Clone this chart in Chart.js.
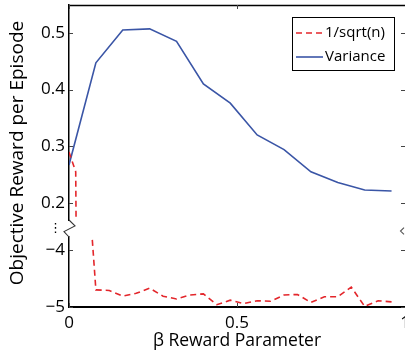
<!DOCTYPE html>
<html>
<head>
<meta charset="utf-8">
<script src="https://cdn.jsdelivr.net/npm/chart.js@4.4.1/dist/chart.umd.min.js"></script>
<style>
  html, body { margin: 0; padding: 0; background: #fff; }
  #wrap { width: 405px; height: 353px; }
</style>
</head>
<body>
<div id="wrap"><canvas id="rewardChart" width="405" height="353"></canvas></div>
<script>
// reward per episode vs. beta, for the two exploration bonuses
var varianceX = [0, 0.08, 0.16, 0.24, 0.32, 0.40, 0.48, 0.56, 0.64, 0.72, 0.80, 0.88, 0.96];
var varianceY = [0.267, 0.447, 0.505, 0.507, 0.485, 0.410, 0.376, 0.320, 0.294, 0.255, 0.236, 0.223, 0.221];

var sqrtX = [0, 0.02, 0.08, 0.12, 0.16, 0.20, 0.24, 0.28, 0.32, 0.36, 0.40, 0.44, 0.48,
             0.52, 0.56, 0.60, 0.64, 0.68, 0.72, 0.76, 0.80, 0.84, 0.88, 0.92, 0.96];
var sqrtY = [0.29, 0.255, -4.70, -4.71, -4.81, -4.76, -4.67, -4.81, -4.86, -4.79, -4.77, -4.96, -4.88,
             -4.94, -4.89, -4.90, -4.79, -4.78, -4.92, -4.82, -4.82, -4.65, -4.99, -4.89, -4.91];

var xTicks = [0, 0.5, 1];
var upperTicks = [0.2, 0.3, 0.4, 0.5];
var lowerTicks = [-5, -4];
var lowerTickLabels = ['\u22125', '\u22124'];

var RED = '#e3262b';
var BLUE = '#3a55a6';
var FONT = 'Open Sans';

function pts(xs, ys) {
    return xs.map(function (x, i) { return { x: x, y: ys[i] }; });
}

// keep axis boxes at fixed sizes so the plot frame lands where it should
function pinBox(w, h) {
    return function (axis) {
        if (w) axis.width = w;
        if (h) axis.height = h;
        axis.paddingLeft = 0;
        axis.paddingRight = 0;
        axis.paddingTop = 0;
        axis.paddingBottom = 0;
    };
}

function fixedTicks(values) {
    return function (axis) {
        axis.ticks = values.map(function (v) { return { value: v }; });
    };
}

var tickFont = { family: FONT, size: 17 };

// each dataset only shows inside its own y segment
var clipToSegment = {
    id: 'clipToSegment',
    beforeDatasetDraw: function (chart, args) {
        var s = chart.scales[args.meta.yAxisID];
        var a = chart.chartArea;
        var ctx = chart.ctx;
        ctx.save();
        ctx.beginPath();
        ctx.rect(a.left, s.top, a.right - a.left, s.bottom - s.top);
        ctx.clip();
    },
    afterDatasetDraw: function (chart) {
        chart.ctx.restore();
    }
};

// frame, inward ticks, axis break marks, y title and legend
var frame = {
    id: 'frame',
    afterDraw: function (chart) {
        var ctx = chart.ctx;
        var a = chart.chartArea;
        var x = chart.scales.x, top = chart.scales.yTop, low = chart.scales.yLow;

        ctx.save();
        ctx.strokeStyle = '#000';
        ctx.lineWidth = 1.3;
        ctx.beginPath();
        ctx.moveTo(a.left, a.top + 0.5);
        ctx.lineTo(a.right, a.top + 0.5);
        ctx.stroke();

        ctx.strokeStyle = '#444';
        ctx.lineWidth = 1;
        ctx.beginPath();
        xTicks.forEach(function (v) {
            var px = Math.round(x.getPixelForValue(v)) + 0.5;
            ctx.moveTo(px, a.bottom); ctx.lineTo(px, a.bottom - 4);
            ctx.moveTo(px, a.top); ctx.lineTo(px, a.top + 4);
        });
        [[top, upperTicks], [low, lowerTicks]].forEach(function (p) {
            p[1].forEach(function (v) {
                var py = Math.round(p[0].getPixelForValue(v)) + 0.5;
                ctx.moveTo(a.left, py); ctx.lineTo(a.left + 4, py);
                ctx.moveTo(a.right, py); ctx.lineTo(a.right - 4, py);
            });
        });
        ctx.stroke();

        // break marks between the two y segments
        var y0 = top.bottom, y1 = low.top;
        var h = y1 - y0;
        ctx.strokeStyle = '#333';
        ctx.lineWidth = 1.1;
        ctx.beginPath();
        ctx.moveTo(a.left, y0);
        ctx.lineTo(a.left + 6, y0 + h * 0.35);
        ctx.lineTo(a.left - 5, y0 + h * 0.68);
        ctx.lineTo(a.left, y1);
        ctx.stroke();
        ctx.strokeStyle = '#555';
        ctx.beginPath();
        ctx.moveTo(a.right - 1, y0 + h * 0.45);
        ctx.lineTo(a.right - 4.5, y0 + h * 0.65);
        ctx.lineTo(a.right - 1, y0 + h * 0.85);
        ctx.stroke();

        // y axis title spans both segments
        ctx.fillStyle = '#000';
        ctx.font = '19px "' + FONT + '"';
        ctx.textAlign = 'center';
        ctx.textBaseline = 'middle';
        ctx.translate(18, (a.top + a.bottom) / 2 - 3);
        ctx.rotate(-Math.PI / 2);
        ctx.fillText('Objective Reward per Episode', 0, 0);
        ctx.setTransform(1, 0, 0, 1, 0, 0);

        // legend
        var lx = a.right - 113, ly = a.top + 12, lw = 102, lh = 53;
        ctx.fillStyle = '#fff';
        ctx.fillRect(lx, ly, lw, lh);
        ctx.strokeStyle = '#000';
        ctx.lineWidth = 1;
        ctx.strokeRect(lx + 0.5, ly + 0.5, lw, lh);
        var items = [chart.data.datasets[0], chart.data.datasets[2]];
        ctx.font = '15px "' + FONT + '"';
        ctx.textAlign = 'left';
        items.forEach(function (ds, i) {
            var ry = ly + 16 + i * 24;
            ctx.strokeStyle = ds.borderColor;
            ctx.lineWidth = ds.borderWidth;
            ctx.setLineDash(ds.borderDash || []);
            ctx.beginPath();
            ctx.moveTo(lx + 4, ry);
            ctx.lineTo(lx + 31, ry);
            ctx.stroke();
            ctx.setLineDash([]);
            ctx.fillStyle = '#000';
            ctx.fillText(ds.label, lx + 33, ry);
        });
        ctx.restore();
    }
};

var ctx = document.getElementById('rewardChart').getContext('2d');
var rewardChart = new Chart(ctx, {
    type: 'line',
    data: {
        datasets: [{
            label: '1/sqrt(n)',
            data: pts(sqrtX, sqrtY),
            yAxisID: 'yTop',
            borderColor: RED,
            borderWidth: 1.6,
            borderDash: [6, 4],
            pointRadius: 0,
            fill: false
        }, {
            label: '1/sqrt(n)',
            data: pts(sqrtX, sqrtY),
            yAxisID: 'yLow',
            borderColor: RED,
            borderWidth: 1.6,
            borderDash: [6, 4],
            pointRadius: 0,
            fill: false
        }, {
            label: 'Variance',
            data: pts(varianceX, varianceY),
            yAxisID: 'yTop',
            borderColor: BLUE,
            borderWidth: 1.6,
            pointRadius: 0,
            fill: false
        }]
    },
    options: {
        responsive: false,
        animation: false,
        devicePixelRatio: 1,
        layout: { padding: { top: 5, left: 0, right: 0, bottom: 0 } },
        plugins: {
            legend: { display: false },
            tooltip: { enabled: false }
        },
        scales: {
            x: {
                type: 'linear',
                min: 0,
                max: 1,
                afterBuildTicks: fixedTicks(xTicks),
                afterFit: pinBox(0, 46),
                grid: { display: false, drawTicks: false },
                border: { color: '#000', width: 2 },
                ticks: {
                    font: tickFont,
                    color: '#000',
                    padding: 6,
                    maxRotation: 0,
                    callback: function (v) { return String(v); }
                },
                title: {
                    display: true,
                    text: '\u03b2 Reward Parameter',
                    font: { family: FONT, size: 17.5 },
                    color: '#000',
                    padding: { top: 0, bottom: 1 }
                }
            },
            yLow: {
                type: 'linear',
                position: 'left',
                stack: 'y',
                stackWeight: 70,
                weight: 1,
                min: -5,
                max: -3.772,
                afterBuildTicks: fixedTicks(lowerTicks),
                afterFit: pinBox(69, 0),
                grid: { display: false, drawTicks: false },
                border: { color: '#000', width: 1.5 },
                ticks: {
                    font: tickFont,
                    color: '#000',
                    padding: 4,
                    callback: function (v) { return lowerTickLabels[lowerTicks.indexOf(v)]; }
                }
            },
            yGap: {
                type: 'linear',
                position: 'left',
                stack: 'y',
                stackWeight: 17,
                weight: 2,
                min: 0,
                max: 1,
                afterBuildTicks: fixedTicks([0.5]),
                afterFit: pinBox(69, 0),
                grid: { display: false, drawTicks: false },
                border: { display: false },
                ticks: {
                    font: { family: 'DejaVu Sans', size: 13 },
                    color: '#000',
                    padding: 7,
                    callback: function () { return '\u22ee'; }
                }
            },
            yTop: {
                type: 'linear',
                position: 'left',
                stack: 'y',
                stackWeight: 215,
                weight: 3,
                min: 0.17,
                max: 0.549,
                afterBuildTicks: fixedTicks(upperTicks),
                afterFit: pinBox(69, 0),
                grid: { display: false, drawTicks: false },
                border: { color: '#000', width: 1.5 },
                ticks: {
                    font: tickFont,
                    color: '#000',
                    padding: 4,
                    callback: function (v) { return v.toFixed(1); }
                }
            }
        }
    },
    plugins: [clipToSegment, frame]
});
</script>
</body>
</html>
